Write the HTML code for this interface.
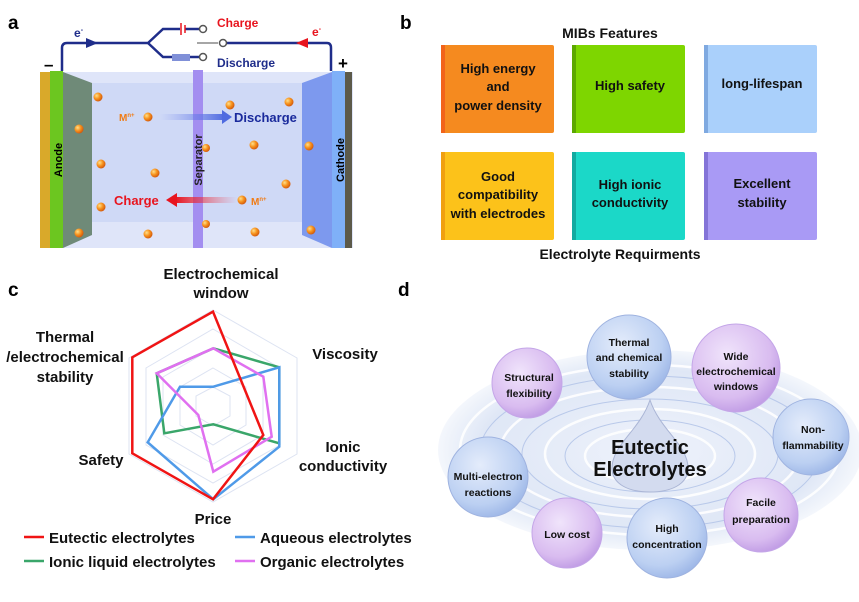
<!DOCTYPE html>
<html><head><meta charset="utf-8"><style>
html,body{margin:0;padding:0;background:#fff;}
svg{display:block;font-family:"Liberation Sans",Arial,sans-serif;font-weight:bold;}
</style></head><body>
<svg width="859" height="602" viewBox="0 0 859 602" xmlns="http://www.w3.org/2000/svg">
<defs>
<radialGradient id="dot" cx="0.35" cy="0.35" r="0.7"><stop offset="0" stop-color="#ffe08a"/><stop offset="0.5" stop-color="#f7931e"/><stop offset="1" stop-color="#d0550a"/></radialGradient>
<radialGradient id="sb" cx="0.4" cy="0.35" r="0.7"><stop offset="0" stop-color="#e4ecfb"/><stop offset="0.7" stop-color="#bcd0f2"/><stop offset="1" stop-color="#9ab4e6"/></radialGradient>
<radialGradient id="sp" cx="0.4" cy="0.35" r="0.7"><stop offset="0" stop-color="#f0e4fb"/><stop offset="0.7" stop-color="#d9bcf0"/><stop offset="1" stop-color="#bd98e3"/></radialGradient>
<radialGradient id="pool" cx="0.5" cy="0.5" r="0.5"><stop offset="0" stop-color="#eef2fb"/><stop offset="0.8" stop-color="#dfe7f6"/><stop offset="1" stop-color="#f4f7fc"/></radialGradient>
<linearGradient id="arb" x1="0" x2="1"><stop offset="0" stop-color="#7b8cf0" stop-opacity="0"/><stop offset="1" stop-color="#4f6be0"/></linearGradient>
<linearGradient id="arr" x1="1" x2="0"><stop offset="0" stop-color="#f04a5a" stop-opacity="0"/><stop offset="1" stop-color="#e8141e"/></linearGradient>
</defs>

<!-- Panel a -->
<text x="8" y="29" font-size="19" fill="#000">a</text>
<rect x="40" y="72" width="313" height="176" fill="#dfe5f9"/>
<rect x="90" y="83" width="215" height="139" fill="#cfd9f6"/>
<polygon points="63,72 92,83 92,235 63,248" fill="#6f8a78"/>
<polygon points="332,72 302,83 302,235 332,248" fill="#7d99ee"/>
<rect x="40" y="72" width="10" height="176" fill="#d9a92a"/>
<rect x="50" y="71" width="13" height="177" fill="#6cc620"/>
<rect x="332" y="71" width="13" height="177" fill="#7fb0f8"/>
<rect x="345" y="72" width="7" height="176" fill="#5c5a4a"/>
<rect x="193" y="70" width="10" height="178" fill="#a38ef0"/>
<text transform="translate(62,160) rotate(-90)" text-anchor="middle" font-size="11" fill="#000">Anode</text>
<text transform="translate(202,160) rotate(-90)" text-anchor="middle" font-size="11" fill="#222">Separator</text>
<text transform="translate(344,160) rotate(-90)" text-anchor="middle" font-size="11" fill="#000">Cathode</text>
<g fill="url(#dot)">
<circle cx="98" cy="97" r="4.5"/><circle cx="79" cy="129" r="4.5"/><circle cx="101" cy="164" r="4.5"/><circle cx="101" cy="207" r="4.5"/><circle cx="79" cy="233" r="4.5"/>
<circle cx="148" cy="117" r="4.5"/><circle cx="155" cy="173" r="4.5"/><circle cx="148" cy="234" r="4.5"/>
<circle cx="230" cy="105" r="4.5"/><circle cx="289" cy="102" r="4.5"/><circle cx="254" cy="145" r="4.5"/><circle cx="309" cy="146" r="4.5"/>
<circle cx="286" cy="184" r="4.5"/><circle cx="242" cy="200" r="4.5"/><circle cx="255" cy="232" r="4.5"/><circle cx="311" cy="230" r="4.5"/>
<circle cx="206" cy="148" r="4"/><circle cx="206" cy="224" r="4"/>
</g>
<text x="119" y="121" font-size="10" fill="#f07b14">M<tspan font-size="6" dy="-4">n+</tspan></text>
<rect x="160" y="114" width="65" height="6" fill="url(#arb)"/>
<polygon points="222,110 232,117 222,124" fill="#4f6be0"/>
<text x="234" y="122" font-size="13" fill="#1a2a9c">Discharge</text>
<rect x="175" y="197" width="62" height="6" fill="url(#arr)"/>
<polygon points="177,193 166,200 177,207" fill="#e8141e"/>
<text x="114" y="205" font-size="13" fill="#e8141e">Charge</text>
<text x="251" y="205" font-size="10" fill="#f07b14">M<tspan font-size="6" dy="-4">n+</tspan></text>
<!-- wires -->
<g fill="none" stroke="#1f2d8a" stroke-width="2.5">
<path d="M62,71 V48 Q62,43 67,43 H148 L163,29 H180"/>
<path d="M148,43 L163,57 H172"/>
<path d="M190,57 H200"/>
<path d="M185,29 H200"/>
<path d="M226,43 H327 Q331,43 331,48 V71"/>
</g>
<path d="M197,43 H218" stroke="#888" stroke-width="1.5"/>
<line x1="181" y1="23" x2="181" y2="35" stroke="#e8141e" stroke-width="1.5"/>
<line x1="185" y1="25" x2="185" y2="33" stroke="#e8141e" stroke-width="1.5"/>
<rect x="172" y="54" width="18" height="7" fill="#8090d8"/>
<g fill="#fff" stroke="#555" stroke-width="1.5"><circle cx="203" cy="29" r="3.5"/><circle cx="203" cy="57" r="3.5"/><circle cx="223" cy="43" r="3.5"/></g>
<polygon points="86,38 98,43 86,48" fill="#1f2d8a"/>
<polygon points="308,38 296,43 308,48" fill="#e8141e"/>
<text x="74" y="37" font-size="12" fill="#1f2d8a">e<tspan font-size="7" dy="-5">-</tspan></text>
<text x="312" y="36" font-size="12" fill="#e8141e">e<tspan font-size="7" dy="-5">-</tspan></text>
<text x="217" y="27" font-size="12" fill="#e8141e">Charge</text>
<text x="217" y="67" font-size="12" fill="#1f2d8a">Discharge</text>
<text x="44" y="70" font-size="17" fill="#000">–</text>
<text x="338" y="69" font-size="17" fill="#000">+</text>

<!-- Panel b -->
<text x="400" y="29" font-size="19" fill="#000">b</text>
<text x="610" y="38" text-anchor="middle" font-size="14" fill="#111">MIBs Features</text>
<g>
<rect x="441" y="45" width="113" height="88" fill="#f58a1f" rx="2"/><rect x="441" y="45" width="4" height="88" fill="#f2641a"/>
<rect x="572" y="45" width="113" height="88" fill="#7ed600" rx="2"/><rect x="572" y="45" width="4" height="88" fill="#5ca800"/>
<rect x="704" y="45" width="113" height="88" fill="#aad0fb" rx="2"/><rect x="704" y="45" width="4" height="88" fill="#7fa9e0"/>
<rect x="441" y="152" width="113" height="88" fill="#fcc21a" rx="2"/><rect x="441" y="152" width="4" height="88" fill="#f0a010"/>
<rect x="572" y="152" width="113" height="88" fill="#1bd8c8" rx="2"/><rect x="572" y="152" width="4" height="88" fill="#12aaa0"/>
<rect x="704" y="152" width="113" height="88" fill="#a99af5" rx="2"/><rect x="704" y="152" width="4" height="88" fill="#8474d8"/>
</g>
<g font-size="13" fill="#111" text-anchor="middle">
<text x="498" y="73">High energy</text><text x="498" y="91">and</text><text x="498" y="110">power density</text>
<text x="630" y="90">High safety</text>
<text x="762" y="88">long-lifespan</text>
<text x="498" y="181">Good</text><text x="498" y="199">compatibility</text><text x="498" y="218">with electrodes</text>
<text x="630" y="189">High ionic</text><text x="630" y="207">conductivity</text>
<text x="762" y="188">Excellent</text><text x="762" y="207">stability</text>
</g>
<text x="620" y="259" text-anchor="middle" font-size="14" fill="#111">Electrolyte Requirments</text>

<!-- Panel c -->
<text x="8" y="296" font-size="19" fill="#000">c</text>
<g fill="none" stroke="#dde3f2" stroke-width="1">
<polygon points="213,310 297,358 297,454 213,502 129,454 129,358"/>
<polygon points="213,329 280,368 280,445 213,483 146,445 146,368"/>
<polygon points="213,348 263,377 263,435 213,464 163,435 163,377"/>
<polygon points="213,368 246,387 246,425 213,445 180,425 180,387"/>
<polygon points="213,387 230,396 230,416 213,426 196,416 196,396"/>
</g>
<g fill="none" stroke-width="2.5" stroke-linejoin="miter">
<polygon points="213.3,348.3 279.3,367.3 279.3,443.3 213.3,424.3 164.3,433.3 156.7,373.3" stroke="#3aa66a"/>
<polygon points="213.3,386.7 279.3,367.3 279.3,446.7 213.3,499.3 147.7,442.3 180,386.7" stroke="#4f9ae8"/>
<polygon points="213.3,348.3 263.3,376.7 271.7,436.7 213.3,471.7 198.3,415 156.7,373.3" stroke="#e070f0"/>
<polygon points="213,311.7 263.3,435 213,499.3 132.3,453.3 132.3,357.3" stroke="#f01414"/>
</g>
<g font-size="15" fill="#111" text-anchor="middle">
<text x="221" y="279">Electrochemical</text><text x="221" y="298">window</text>
<text x="345" y="359">Viscosity</text>
<text x="65" y="342">Thermal</text><text x="65" y="362">/electrochemical</text><text x="65" y="382">stability</text>
<text x="343" y="452">Ionic</text><text x="343" y="471">conductivity</text>
<text x="101" y="465">Safety</text>
<text x="213" y="524">Price</text>
</g>
<g font-size="15" fill="#111">
<line x1="24" y1="537" x2="44" y2="537" stroke="#f01414" stroke-width="2.5"/><text x="49" y="543">Eutectic electrolytes</text>
<line x1="235" y1="537" x2="255" y2="537" stroke="#4f9ae8" stroke-width="2.5"/><text x="260" y="543">Aqueous electrolytes</text>
<line x1="24" y1="561" x2="44" y2="561" stroke="#3aa66a" stroke-width="2.5"/><text x="49" y="567">Ionic liquid electrolytes</text>
<line x1="235" y1="561" x2="255" y2="561" stroke="#e070f0" stroke-width="2.5"/><text x="260" y="567">Organic electrolytes</text>
</g>

<!-- Panel d -->
<text x="398" y="296" font-size="19" fill="#000">d</text>
<ellipse cx="650" cy="450" rx="212" ry="100" fill="url(#pool)"/>
<g fill="none" stroke="#ffffff" stroke-width="2.5" opacity="0.9">
<ellipse cx="650" cy="450" rx="190" ry="85"/><ellipse cx="650" cy="452" rx="150" ry="65"/><ellipse cx="650" cy="454" rx="105" ry="45"/><ellipse cx="650" cy="456" rx="65" ry="27"/>
</g>
<g fill="none" stroke="#b9c9ea" stroke-width="1">
<ellipse cx="650" cy="452" rx="170" ry="76"/><ellipse cx="650" cy="454" rx="128" ry="55"/><ellipse cx="650" cy="456" rx="85" ry="36"/>
</g>
<path d="M650,400 C640,430 612,445 612,468 C612,485 630,492 650,492 C670,492 688,485 688,468 C688,445 660,430 650,400 Z" fill="#d3dbef" stroke="#aab5d5"/>
<g stroke="#9fb3e0" stroke-width="1">
<circle cx="629" cy="357" r="42" fill="url(#sb)"/>
<circle cx="811" cy="437" r="38" fill="url(#sb)"/>
<circle cx="488" cy="477" r="40" fill="url(#sb)"/>
<circle cx="667" cy="538" r="40" fill="url(#sb)"/>
</g>
<g stroke="#c4a6e8" stroke-width="1">
<circle cx="527" cy="383" r="35" fill="url(#sp)"/>
<circle cx="736" cy="368" r="44" fill="url(#sp)"/>
<circle cx="567" cy="533" r="35" fill="url(#sp)"/>
<circle cx="761" cy="515" r="37" fill="url(#sp)"/>
</g>
<g font-size="10.5" fill="#111" text-anchor="middle">
<text x="529" y="381">Structural</text><text x="529" y="397">flexibility</text>
<text x="629" y="346">Thermal</text><text x="629" y="361">and chemical</text><text x="629" y="377">stability</text>
<text x="736" y="360">Wide</text><text x="736" y="375">electrochemical</text><text x="736" y="390">windows</text>
<text x="813" y="433">Non-</text><text x="813" y="449">flammability</text>
<text x="488" y="480">Multi-electron</text><text x="488" y="496">reactions</text>
<text x="567" y="538">Low cost</text>
<text x="667" y="532">High</text><text x="667" y="548">concentration</text>
<text x="761" y="506">Facile</text><text x="761" y="523">preparation</text>
</g>
<text x="650" y="454" text-anchor="middle" font-size="20" fill="#111" font-weight="normal" style="font-weight:600">Eutectic</text>
<text x="650" y="476" text-anchor="middle" font-size="20" fill="#111" style="font-weight:600">Electrolytes</text>
</svg>
</body></html>
